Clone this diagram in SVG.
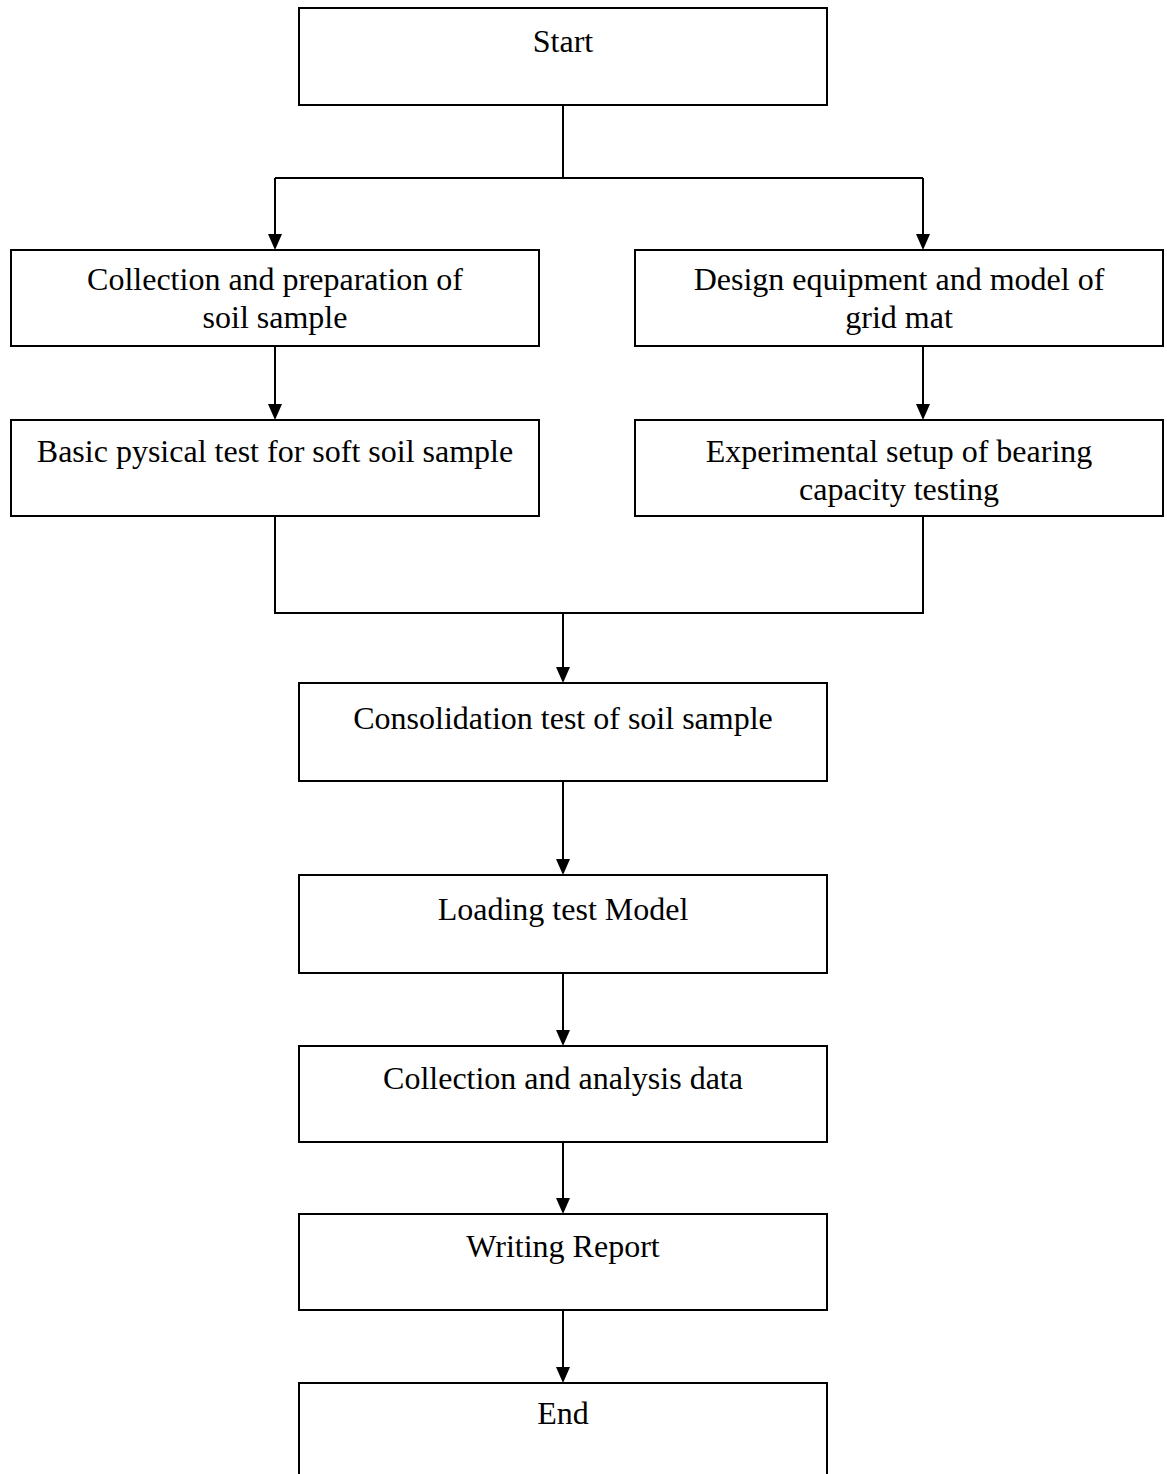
<svg xmlns="http://www.w3.org/2000/svg" width="1167" height="1474" viewBox="0 0 1167 1474">
<style>
.box{fill:#fff;stroke:#000;stroke-width:2}
.ln{fill:none;stroke:#000;stroke-width:2}
text{font-family:"Liberation Serif","Times New Roman",serif;font-size:32px;fill:#000;text-anchor:middle}
</style>
<rect width="1167" height="1474" fill="#fff"/>
<g id="connectors">
<path class="ln" d="M563,105 V178 M275,178 H923"/>
<line class="ln" x1="275" y1="178" x2="275" y2="240"/>
<line class="ln" x1="923" y1="178" x2="923" y2="240"/>
<line class="ln" x1="275" y1="346" x2="275" y2="410"/>
<line class="ln" x1="923" y1="346" x2="923" y2="410"/>
<path class="ln" d="M275,516 V613 H923 V516"/>
<line class="ln" x1="563" y1="613" x2="563" y2="673"/>
<line class="ln" x1="563" y1="781" x2="563" y2="865"/>
<line class="ln" x1="563" y1="973" x2="563" y2="1036"/>
<line class="ln" x1="563" y1="1142" x2="563" y2="1204"/>
<line class="ln" x1="563" y1="1310" x2="563" y2="1373"/>
<g fill="#000">
<path d="M268,234 L282,234 L275,250 Z"/>
<path d="M916,234 L930,234 L923,250 Z"/>
<path d="M268,404 L282,404 L275,420 Z"/>
<path d="M916,404 L930,404 L923,420 Z"/>
<path d="M556,667 L570,667 L563,683 Z"/>
<path d="M556,859 L570,859 L563,875 Z"/>
<path d="M556,1030 L570,1030 L563,1046 Z"/>
<path d="M556,1198 L570,1198 L563,1214 Z"/>
<path d="M556,1367 L570,1367 L563,1383 Z"/>
</g>
</g>
<g id="start"><rect class="box" x="299" y="8" width="528" height="97"/><text x="563" y="52">Start</text></g>
<g id="collect"><rect class="box" x="11" y="250" width="528" height="96"/><text x="275" y="290">Collection and preparation of</text><text x="275" y="328">soil sample</text></g>
<g id="design"><rect class="box" x="635" y="250" width="528" height="96"/><text x="899" y="290">Design equipment and model of</text><text x="899" y="328">grid mat</text></g>
<g id="basic"><rect class="box" x="11" y="420" width="528" height="96"/><text x="275" y="462">Basic pysical test for soft soil sample</text></g>
<g id="setup"><rect class="box" x="635" y="420" width="528" height="96"/><text x="899" y="462">Experimental setup of bearing</text><text x="899" y="500">capacity testing</text></g>
<g id="consol"><rect class="box" x="299" y="683" width="528" height="98"/><text x="563" y="729">Consolidation test of soil sample</text></g>
<g id="loading"><rect class="box" x="299" y="875" width="528" height="98"/><text x="563" y="920">Loading test Model</text></g>
<g id="analysis"><rect class="box" x="299" y="1046" width="528" height="96"/><text x="563" y="1089">Collection and analysis data</text></g>
<g id="report"><rect class="box" x="299" y="1214" width="528" height="96"/><text x="563" y="1257">Writing Report</text></g>
<g id="end"><rect class="box" x="299" y="1383" width="528" height="110"/><text x="563" y="1424">End</text></g>
</svg>
